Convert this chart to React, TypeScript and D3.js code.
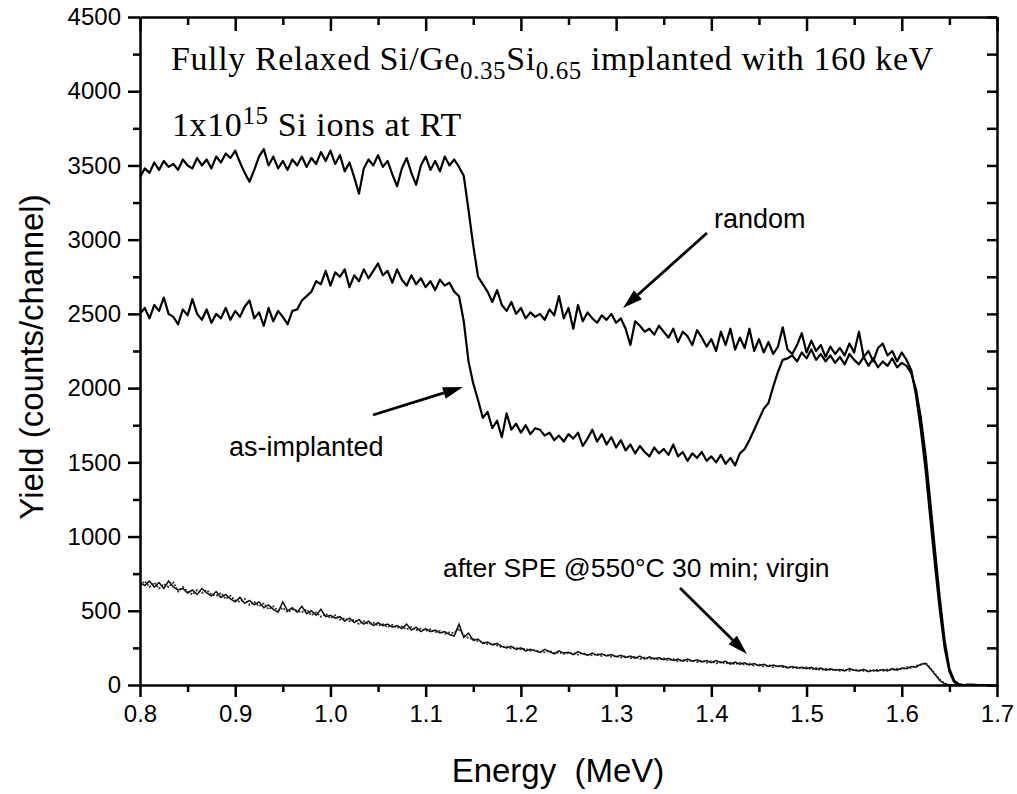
import React, { useEffect, useRef } from "react";
import * as d3 from "d3";

// Channel energies: spectra start at 0.800 MeV, one value every 0.005 MeV
const E_START = 0.8;
const E_STEP = 0.005;

// Random spectrum (counts/channel)
const randomYield = [
  3420, 3480, 3450, 3520, 3470, 3530, 3490, 3510, 3470, 3540,
  3500, 3480, 3550, 3500, 3540, 3480, 3560, 3520, 3580, 3550,
  3600, 3520, 3450, 3390, 3470, 3560, 3610, 3500, 3560, 3480,
  3530, 3470, 3540, 3500, 3560, 3490, 3550, 3510, 3590, 3530,
  3600, 3510, 3570, 3460, 3520, 3420, 3310, 3480, 3540, 3500,
  3570, 3490, 3530, 3440, 3360, 3480, 3550, 3450, 3370, 3500,
  3560, 3470, 3530, 3460, 3560, 3500, 3540, 3490, 3430, 3200,
  2960, 2750, 2700, 2650, 2580, 2660, 2560, 2520, 2580, 2500,
  2540, 2470, 2510, 2480, 2500, 2460, 2530, 2490, 2620, 2470,
  2540, 2400, 2560, 2450, 2510, 2470, 2440, 2490, 2460, 2500,
  2440, 2470, 2400, 2290, 2450, 2420, 2380, 2400, 2360, 2420,
  2380, 2340, 2400, 2310, 2380, 2350, 2290, 2390, 2340, 2280,
  2330, 2250, 2380, 2290, 2400, 2260, 2340, 2270, 2400, 2250,
  2330, 2240, 2310, 2230, 2280, 2410, 2260, 2230, 2290, 2370,
  2240, 2320, 2250, 2290, 2210, 2280, 2230, 2270, 2220, 2300,
  2240, 2380, 2210, 2250, 2180, 2270, 2300, 2220, 2250, 2180,
  2240, 2190, 2120, 1950, 1720, 1450, 1120, 800, 500, 250,
  90, 20, 3, 0, 2, 0, 0, 0, 0, 0,
];

// As-implanted aligned spectrum
const asImplantedYield = [
  2500, 2540, 2470, 2560, 2520, 2610, 2500, 2480, 2430, 2530,
  2490, 2600, 2500, 2460, 2530, 2440, 2500, 2470, 2540, 2460,
  2520, 2480, 2550, 2590, 2470, 2510, 2420, 2540, 2450, 2520,
  2480, 2430, 2520, 2530, 2590, 2620, 2650, 2720, 2700, 2790,
  2690, 2780, 2750, 2800, 2680, 2760, 2720, 2800, 2740, 2790,
  2840, 2760, 2790, 2710, 2800, 2730, 2690, 2760, 2700, 2740,
  2680, 2720, 2660, 2730, 2690, 2710, 2650, 2620, 2450, 2180,
  2030, 1920, 1800, 1840, 1730, 1780, 1670, 1830, 1720, 1760,
  1700, 1750, 1690, 1730, 1720, 1680, 1700, 1650, 1680, 1640,
  1690, 1660, 1700, 1610, 1660, 1720, 1640, 1690, 1620, 1670,
  1600, 1650, 1580, 1620, 1560, 1610, 1570, 1540, 1600, 1560,
  1590, 1550, 1620, 1540, 1570, 1510, 1560, 1530, 1570, 1510,
  1540, 1500, 1550, 1490, 1530, 1480, 1560, 1590, 1650, 1720,
  1790, 1860, 1900, 2010, 2110, 2190, 2200, 2220, 2180, 2240,
  2200, 2260, 2190, 2230, 2180, 2220, 2170, 2210, 2160, 2230,
  2190, 2160, 2210, 2150, 2200, 2140, 2180, 2150, 2200, 2140,
  2170, 2150, 2100, 1990, 1800, 1550, 1230, 900, 580, 300,
  110, 30, 5, 0, 0, 2, 0, 0, 0, 0,
];

// After SPE @550°C 30 min
const speYield = [
  690, 670, 700, 660, 690, 650, 700, 660, 640, 650,
  620, 640, 610, 650, 620, 600, 630, 590, 610, 580,
  560, 590, 550, 570, 540, 560, 520, 540, 510, 490,
  560, 500, 520, 490, 530, 480, 500, 470, 510, 460,
  470, 450, 460, 430, 450, 420, 440, 410, 430, 400,
  420, 400, 410, 390, 400, 380, 410, 370, 390, 360,
  380, 360, 370, 350, 360, 340, 330, 410, 320, 350,
  300, 310, 280, 290, 270, 280, 260, 250, 260, 240,
  250, 230, 240, 230, 220, 240, 225, 210, 230, 215,
  220, 205, 225, 210, 200, 215, 200, 210, 195, 205,
  190, 200, 185, 195, 180, 195, 175, 190, 175, 185,
  170, 180, 165, 175, 160, 175, 160, 170, 155, 165,
  150, 165, 150, 160, 140, 155, 140, 150, 135, 145,
  130, 140, 125, 135, 125, 130, 115, 125, 115, 120,
  110, 120, 105, 115, 100, 110, 100, 105, 95, 110,
  100, 95, 105, 90, 100, 95, 105, 95, 110, 100,
  115, 110, 125, 120, 140, 145, 110, 70, 30, 8,
  0, 0, 2, 0, 0, 1, 0, 0, 0, 0,
];

// Virgin aligned spectrum
const virginYield = [
  670, 700, 660, 690, 650, 680, 660, 690, 630, 660,
  630, 610, 640, 620, 640, 610, 600, 620, 580, 600,
  570, 560, 580, 540, 560, 530, 550, 510, 530, 500,
  520, 490, 510, 500, 490, 510, 470, 490, 460, 480,
  450, 470, 440, 450, 430, 440, 410, 430, 410, 420,
  400, 410, 390, 405, 385, 395, 375, 390, 370, 380,
  365, 375, 355, 365, 345, 355, 350, 380, 335, 315,
  310, 295, 290, 275, 280, 265, 255, 260, 245, 250,
  240, 245, 230, 235, 225, 220, 230, 215, 220, 210,
  215, 215, 205, 215, 205, 200, 210, 195, 205, 190,
  195, 185, 195, 180, 190, 175, 185, 175, 180, 170,
  180, 165, 175, 160, 170, 160, 165, 155, 165, 150,
  160, 145, 155, 145, 150, 140, 150, 135, 145, 130,
  140, 125, 135, 120, 130, 120, 125, 115, 120, 110,
  120, 105, 115, 100, 110, 100, 105, 95, 105, 95,
  105, 100, 95, 100, 95, 105, 95, 105, 100, 110,
  105, 120, 115, 130, 135, 150, 115, 75, 35, 10,
  0, 1, 0, 0, 2, 0, 0, 0, 0, 0,
];

const xMajorTicks = [0.8, 0.9, 1.0, 1.1, 1.2, 1.3, 1.4, 1.5, 1.6, 1.7];
const xMinorTicks = [0.85, 0.95, 1.05, 1.15, 1.25, 1.35, 1.45, 1.55, 1.65];
const yMajorTicks = [0, 500, 1000, 1500, 2000, 2500, 3000, 3500, 4000, 4500];
const yMinorTicks = [250, 750, 1250, 1750, 2250, 2750, 3250, 3750, 4250];

const W = 1017;
const H = 794;
const M = { left: 140, right: 997, top: 17, bottom: 685 };
const SANS = "'Liberation Sans', Arial, Helvetica, sans-serif";
const SERIF = "'Liberation Serif', 'Times New Roman', serif";

type Pt = { e: number; v: number };
const toPts = (arr: number[]): Pt[] => arr.map((v, i) => ({ e: E_START + i * E_STEP, v }));

export default function App() {
  const ref = useRef<SVGGElement>(null);

  useEffect(() => {
    const svg = d3.select(ref.current);
    svg.selectAll("*").remove();

    const x = d3.scaleLinear().domain([0.8, 1.7]).range([M.left, M.right]);
    const y = d3.scaleLinear().domain([0, 4500]).range([M.bottom, M.top]);

    const line = d3
      .line<Pt>()
      .x((d) => x(d.e))
      .y((d) => y(d.v));

    const g = svg.append("g");

    // curves
    g.append("path")
      .attr("d", line(toPts(virginYield)) as string)
      .attr("fill", "none")
      .attr("stroke", "#333")
      .attr("stroke-width", 1.8)
      .attr("stroke-dasharray", "2,1.5");
    g.append("path")
      .attr("d", line(toPts(speYield)) as string)
      .attr("fill", "none")
      .attr("stroke", "#111")
      .attr("stroke-width", 1.5);
    g.append("path")
      .attr("d", line(toPts(randomYield)) as string)
      .attr("fill", "none")
      .attr("stroke", "#000")
      .attr("stroke-width", 2.2)
      .attr("stroke-linejoin", "round");
    g.append("path")
      .attr("d", line(toPts(asImplantedYield)) as string)
      .attr("fill", "none")
      .attr("stroke", "#000")
      .attr("stroke-width", 2.2)
      .attr("stroke-linejoin", "round");

    // axes
    const styleAxis = (sel: any) => {
      sel.selectAll("path.domain").attr("stroke", "#000").attr("stroke-width", 2.5);
      sel.selectAll(".tick line").attr("stroke", "#000").attr("stroke-width", 2.5);
      sel.selectAll("text").attr("fill", "#000").attr("font-family", SANS).attr("font-size", 24);
    };

    const left = g.append("g").attr("transform", `translate(${M.left},0)`);
    left.call(d3.axisLeft(y).tickValues(yMinorTicks).tickSize(7).tickFormat(() => "").tickSizeOuter(0));
    left.call((s: any) => s.select(".domain").remove());
    const leftMaj = g.append("g").attr("transform", `translate(${M.left},0)`);
    leftMaj.call(d3.axisLeft(y).tickValues(yMajorTicks).tickSize(12).tickPadding(7).tickFormat(d3.format("d")).tickSizeOuter(0));
    styleAxis(left);
    styleAxis(leftMaj);

    const right = g.append("g").attr("transform", `translate(${M.right},0)`);
    right.call(d3.axisRight(y).tickValues([...yMajorTicks, ...yMinorTicks]).tickSize(-10).tickFormat(() => "").tickSizeOuter(0));
    styleAxis(right);

    const bottomMin = g.append("g").attr("transform", `translate(0,${M.bottom})`);
    bottomMin.call(d3.axisBottom(x).tickValues(xMinorTicks).tickSize(7).tickFormat(() => "").tickSizeOuter(0));
    bottomMin.call((s: any) => s.select(".domain").remove());
    const bottom = g.append("g").attr("transform", `translate(0,${M.bottom})`);
    bottom.call(d3.axisBottom(x).tickValues(xMajorTicks).tickSize(12).tickPadding(8).tickFormat(d3.format(".1f")).tickSizeOuter(0));
    styleAxis(bottomMin);
    styleAxis(bottom);

    const topMin = g.append("g").attr("transform", `translate(0,${M.top})`);
    topMin.call(d3.axisTop(x).tickValues(xMinorTicks).tickSize(-8).tickFormat(() => "").tickSizeOuter(0));
    topMin.call((s: any) => s.select(".domain").remove());
    const top = g.append("g").attr("transform", `translate(0,${M.top})`);
    top.call(d3.axisTop(x).tickValues(xMajorTicks).tickSize(-14).tickFormat(() => "").tickSizeOuter(0));
    styleAxis(topMin);
    styleAxis(top);
  }, []);

  const arrow = (x1: number, y1: number, x2: number, y2: number, key: string) => {
    const ang = Math.atan2(y2 - y1, x2 - x1);
    const L = 20;
    const Wd = 6;
    const bx = x2 - L * Math.cos(ang);
    const by = y2 - L * Math.sin(ang);
    const px = -Math.sin(ang) * Wd;
    const py = Math.cos(ang) * Wd;
    return (
      <g key={key}>
        <line x1={x1} y1={y1} x2={bx} y2={by} stroke="#000" strokeWidth={2.8} />
        <polygon points={`${x2},${y2} ${bx + px},${by + py} ${bx - px},${by - py}`} fill="#000" />
      </g>
    );
  };

  return (
    <svg
      width={W}
      height={H}
      style={{ position: "absolute", left: 0, top: 0, background: "#fff" }}
    >
      <rect x={0} y={0} width={W} height={H} fill="#fff" />
      <g ref={ref} />
      <text x={171} y={70} fontFamily={SERIF} fontSize={34} letterSpacing={0.6} fill="#000">
        Fully Relaxed Si/Ge
        <tspan fontSize={25} dy={9}>0.35</tspan>
        <tspan dy={-9}>Si</tspan>
        <tspan fontSize={25} dy={9}>0.65</tspan>
        <tspan dy={-9}> implanted with 160 keV</tspan>
      </text>
      <text x={172} y={136} fontFamily={SERIF} fontSize={34} letterSpacing={0.6} fill="#000">
        1x10
        <tspan fontSize={25} dy={-12}>15</tspan>
        <tspan dy={12}> Si ions at RT</tspan>
      </text>
      <text x={714} y={228} fontFamily={SANS} fontSize={27} fill="#000">random</text>
      <text x={229} y={456} fontFamily={SANS} fontSize={27} fill="#000">as-implanted</text>
      <text x={443} y={577} fontFamily={SANS} fontSize={26.5} fill="#000">after SPE @550°C 30 min; virgin</text>
      {arrow(707, 233, 623, 308, "a1")}
      {arrow(373, 415, 463, 387, "a2")}
      {arrow(680, 588, 747, 654, "a3")}
      <text
        x={558}
        y={782}
        textAnchor="middle"
        fontFamily={SANS}
        fontSize={33}
        fill="#000"
        style={{ whiteSpace: "pre" }}
      >
        {"Energy  (MeV)"}
      </text>
      <text
        transform="translate(43,357) rotate(-90)"
        textAnchor="middle"
        fontFamily={SANS}
        fontSize={33}
        fill="#000"
      >
        Yield (counts/channel)
      </text>
    </svg>
  );
}
